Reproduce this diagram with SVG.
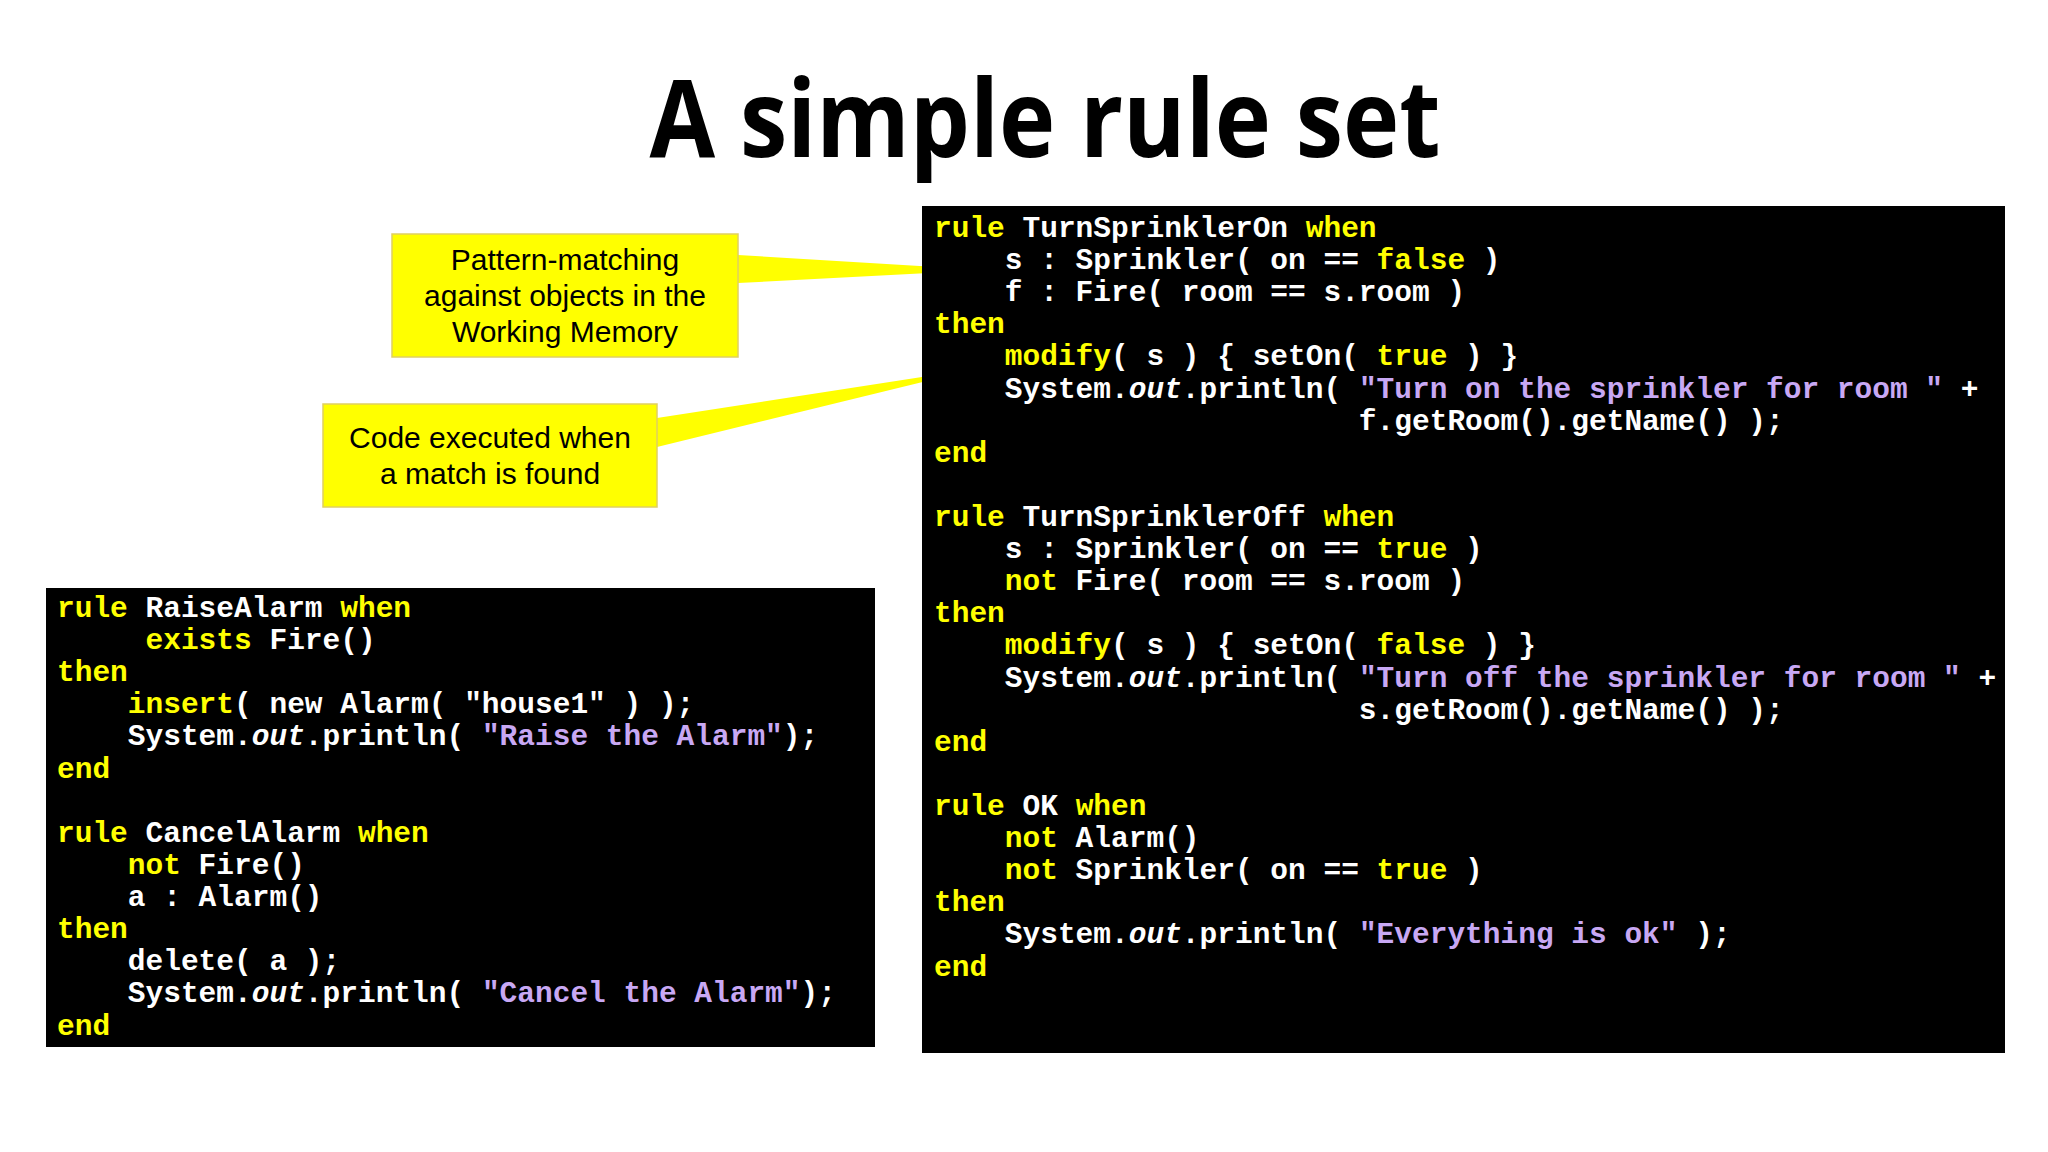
<svg xmlns="http://www.w3.org/2000/svg" width="2048" height="1152" viewBox="0 0 2048 1152">
<style>
.c{font-family:"Liberation Mono",monospace;font-size:29.5px;font-weight:bold;fill:#fff;white-space:pre}
.k{fill:#ffff00}
.s{fill:#c8a8f4}
.i{font-style:italic}
.cl{font-family:"Liberation Sans",Arial,sans-serif;font-size:30px;fill:#000;text-anchor:middle}
</style>
<rect width="2048" height="1152" fill="#fff"/>
<text x="1045" y="157" font-family="Open Sans, Liberation Sans, sans-serif" font-weight="bold" font-size="108" text-anchor="middle" textLength="791" lengthAdjust="spacingAndGlyphs">A simple rule set</text>
<g id="connectors">
<polygon points="738,255 986,270 738,283" fill="#ffff00"/>
<polygon points="657,418 980,368 657,447" fill="#ffff00"/>
</g>
<g id="callout1">
<rect x="392" y="234" width="346" height="123" fill="#ffff00" stroke="#e0d060" stroke-width="1.5"/>
<text class="cl" x="565" y="270">Pattern-matching</text>
<text class="cl" x="565" y="306">against objects in the</text>
<text class="cl" x="565" y="342">Working Memory</text>
</g>
<g id="callout2">
<rect x="323" y="404" width="334" height="103" fill="#ffff00" stroke="#e0d060" stroke-width="1.5"/>
<text class="cl" x="490" y="448">Code executed when</text>
<text class="cl" x="490" y="484">a match is found</text>
</g>
<g id="rightcode">
<rect x="922" y="206" width="1083" height="847" fill="#000"/>
<text class="c" x="934" y="237"><tspan class="k">rule</tspan> TurnSprinklerOn <tspan class="k">when</tspan></text>
<text class="c" x="934" y="269">    s : Sprinkler( on == <tspan class="k">false</tspan> )</text>
<text class="c" x="934" y="301">    f : Fire( room == s.room )</text>
<text class="c" x="934" y="333"><tspan class="k">then</tspan></text>
<text class="c" x="934" y="365">    <tspan class="k">modify</tspan>( s ) { setOn( <tspan class="k">true</tspan> ) }</text>
<text class="c" x="934" y="398">    System.<tspan class="i">out</tspan>.println( <tspan class="s">"Turn on the sprinkler for room "</tspan> +</text>
<text class="c" x="934" y="430">                        f.getRoom().getName() );</text>
<text class="c" x="934" y="462"><tspan class="k">end</tspan></text>
<text class="c" x="934" y="526"><tspan class="k">rule</tspan> TurnSprinklerOff <tspan class="k">when</tspan></text>
<text class="c" x="934" y="558">    s : Sprinkler( on == <tspan class="k">true</tspan> )</text>
<text class="c" x="934" y="590">    <tspan class="k">not</tspan> Fire( room == s.room )</text>
<text class="c" x="934" y="622"><tspan class="k">then</tspan></text>
<text class="c" x="934" y="654">    <tspan class="k">modify</tspan>( s ) { setOn( <tspan class="k">false</tspan> ) }</text>
<text class="c" x="934" y="687">    System.<tspan class="i">out</tspan>.println( <tspan class="s">"Turn off the sprinkler for room "</tspan> +</text>
<text class="c" x="934" y="719">                        s.getRoom().getName() );</text>
<text class="c" x="934" y="751"><tspan class="k">end</tspan></text>
<text class="c" x="934" y="815"><tspan class="k">rule</tspan> OK <tspan class="k">when</tspan></text>
<text class="c" x="934" y="847">    <tspan class="k">not</tspan> Alarm()</text>
<text class="c" x="934" y="879">    <tspan class="k">not</tspan> Sprinkler( on == <tspan class="k">true</tspan> )</text>
<text class="c" x="934" y="911"><tspan class="k">then</tspan></text>
<text class="c" x="934" y="943">    System.<tspan class="i">out</tspan>.println( <tspan class="s">"Everything is ok"</tspan> );</text>
<text class="c" x="934" y="976"><tspan class="k">end</tspan></text>
</g>
<g id="leftcode">
<rect x="46" y="588" width="829" height="459" fill="#000"/>
<text class="c" x="57" y="617"><tspan class="k">rule</tspan> RaiseAlarm <tspan class="k">when</tspan></text>
<text class="c" x="57" y="649">     <tspan class="k">exists</tspan> Fire()</text>
<text class="c" x="57" y="681"><tspan class="k">then</tspan></text>
<text class="c" x="57" y="713">    <tspan class="k">insert</tspan>( new Alarm( "house1" ) );</text>
<text class="c" x="57" y="745">    System.<tspan class="i">out</tspan>.println( <tspan class="s">"Raise the Alarm"</tspan>);</text>
<text class="c" x="57" y="778"><tspan class="k">end</tspan></text>
<text class="c" x="57" y="842"><tspan class="k">rule</tspan> CancelAlarm <tspan class="k">when</tspan></text>
<text class="c" x="57" y="874">    <tspan class="k">not</tspan> Fire()</text>
<text class="c" x="57" y="906">    a : Alarm()</text>
<text class="c" x="57" y="938"><tspan class="k">then</tspan></text>
<text class="c" x="57" y="970">    delete( a );</text>
<text class="c" x="57" y="1002">    System.<tspan class="i">out</tspan>.println( <tspan class="s">"Cancel the Alarm"</tspan>);</text>
<text class="c" x="57" y="1035"><tspan class="k">end</tspan></text>
</g>
</svg>
